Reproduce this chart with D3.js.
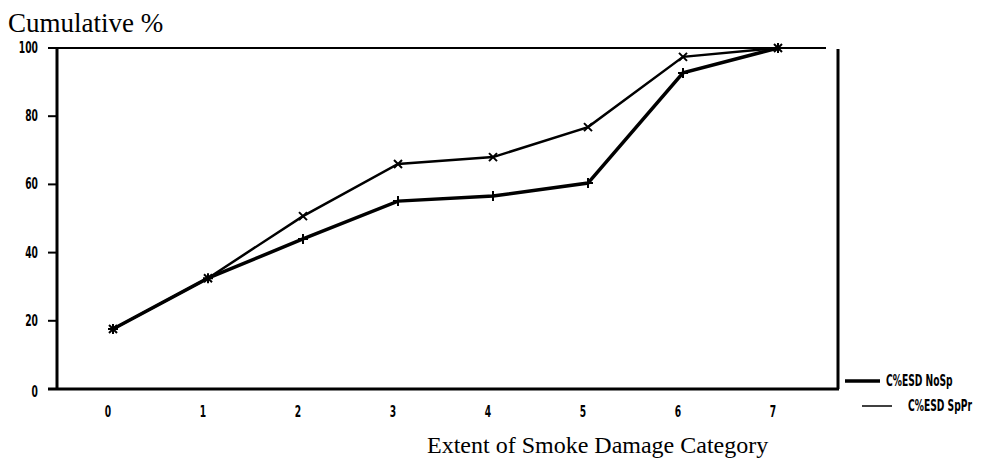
<!DOCTYPE html>
<html>
<head>
<meta charset="utf-8">
<script src="https://cdn.jsdelivr.net/npm/d3@7"></script>
<style>
body { margin: 0; background: #fff; }
.tick-lab { font-family: "DejaVu Sans Condensed", "DejaVu Sans"; font-weight: bold; font-size: 12px; }
.serif { font-family: "Liberation Serif", "Times New Roman", serif; }
</style>
</head>
<body>
<div id="chart"></div>
<script>
var width = 991;
var height = 462;

var categories = [0, 1, 2, 3, 4, 5, 6, 7];
var noSp = [17.6, 32.5, 44.0, 55.1, 56.6, 60.4, 92.7, 100];
var spPr = [17.6, 32.5, 50.7, 66.0, 68.0, 76.8, 97.4, 100];
var yTicks = [0, 20, 40, 60, 80, 100];
var seriesNames = ["C%ESD NoSp", "C%ESD SpPr"];

var svg = d3.select("#chart")
            .append("svg")
            .attr("width", width)
            .attr("height", height);

var x = d3.scalePoint()
    .domain(categories)
    .range([113, 778]);

var y = d3.scaleLinear()
    .domain([0, 100])
    .range([389, 48]);

// frame: top line, right line, axes
svg.append("line").attr("x1", 48).attr("x2", 826).attr("y1", y(100)).attr("y2", y(100))
    .attr("stroke", "#000").attr("stroke-width", 2);
svg.append("line").attr("x1", 838).attr("x2", 838).attr("y1", y(100) + 1).attr("y2", y(0))
    .attr("stroke", "#000").attr("stroke-width", 3);
svg.append("line").attr("x1", 48).attr("x2", 839).attr("y1", y(0)).attr("y2", y(0))
    .attr("stroke", "#000").attr("stroke-width", 3);
svg.append("line").attr("x1", 57).attr("x2", 57).attr("y1", y(100)).attr("y2", y(0))
    .attr("stroke", "#000").attr("stroke-width", 3);

// y ticks
var yt = svg.selectAll(".yt")
    .data(yTicks)
    .enter()
    .append("g")
    .attr("class", "yt");

yt.append("line")
    .attr("x1", 48).attr("x2", 57)
    .attr("y1", function(d) { return y(d); })
    .attr("y2", function(d) { return y(d); })
    .attr("stroke", "#000").attr("stroke-width", 2);

yt.append("text")
    .attr("class", "tick-lab")
    .attr("text-anchor", "end")
    .attr("transform", function(d) {
        var yy = d == 0 ? y(d) + 8 : y(d) + 5;
        return "translate(38," + yy + ") scale(0.85,1.3)";
    })
    .text(function(d) { return d; });

// x labels
svg.selectAll(".xl")
    .data(categories)
    .enter()
    .append("text")
    .attr("class", "tick-lab")
    .attr("text-anchor", "middle")
    .attr("transform", function(d) {
        return "translate(" + (x(d) - 5) + ",417) scale(0.85,1.3)";
    })
    .text(function(d) { return d; });

// lines
var line = d3.line()
    .x(function(d, i) { return x(categories[i]); })
    .y(function(d) { return y(d); });

svg.append("path")
    .attr("d", line(spPr))
    .attr("fill", "none")
    .attr("stroke", "#000")
    .attr("stroke-width", 2.5);

svg.append("path")
    .attr("d", line(noSp))
    .attr("fill", "none")
    .attr("stroke", "#000")
    .attr("stroke-width", 3.5);

// markers
svg.selectAll(".mp")
    .data(noSp)
    .enter()
    .append("path")
    .attr("d", function(d, i) {
        var cx = x(categories[i]), cy = y(d);
        return "M" + (cx - 5) + "," + cy + "H" + (cx + 5) + "M" + cx + "," + (cy - 5) + "V" + (cy + 5);
    })
    .attr("stroke", "#000").attr("stroke-width", 2);

svg.selectAll(".mx")
    .data(spPr)
    .enter()
    .append("path")
    .attr("d", function(d, i) {
        var cx = x(categories[i]), cy = y(d);
        return "M" + (cx - 4) + "," + (cy - 4) + "L" + (cx + 4) + "," + (cy + 4) +
               "M" + (cx - 4) + "," + (cy + 4) + "L" + (cx + 4) + "," + (cy - 4);
    })
    .attr("stroke", "#000").attr("stroke-width", 2);

// titles
svg.append("text")
    .attr("class", "serif")
    .attr("x", 8).attr("y", 32)
    .attr("font-size", 27)
    .text("Cumulative %");

svg.append("text")
    .attr("class", "serif")
    .attr("x", 427).attr("y", 453)
    .attr("font-size", 24)
    .text("Extent of Smoke Damage Category");

// legend
var legY = [381, 406];
var legX1 = [845, 862];
var legX2 = [880, 892];
var legW = [3.5, 1.5];

var leg = svg.selectAll(".leg")
    .data(seriesNames)
    .enter()
    .append("g")
    .attr("class", "leg");

leg.append("line")
    .attr("x1", function(d, i) { return legX1[i]; })
    .attr("x2", function(d, i) { return legX2[i]; })
    .attr("y1", function(d, i) { return legY[i]; })
    .attr("y2", function(d, i) { return legY[i]; })
    .attr("stroke", "#000")
    .attr("stroke-width", function(d, i) { return legW[i]; });

leg.append("text")
    .attr("class", "tick-lab")
    .attr("font-size", 10)
    .attr("transform", function(d, i) {
        return "translate(" + (legX2[i] + (i == 0 ? 6 : 16)) + "," + (legY[i] + 5) + ") scale(0.85,1.3)";
    })
    .text(function(d) { return d; });
</script>
</body>
</html>
